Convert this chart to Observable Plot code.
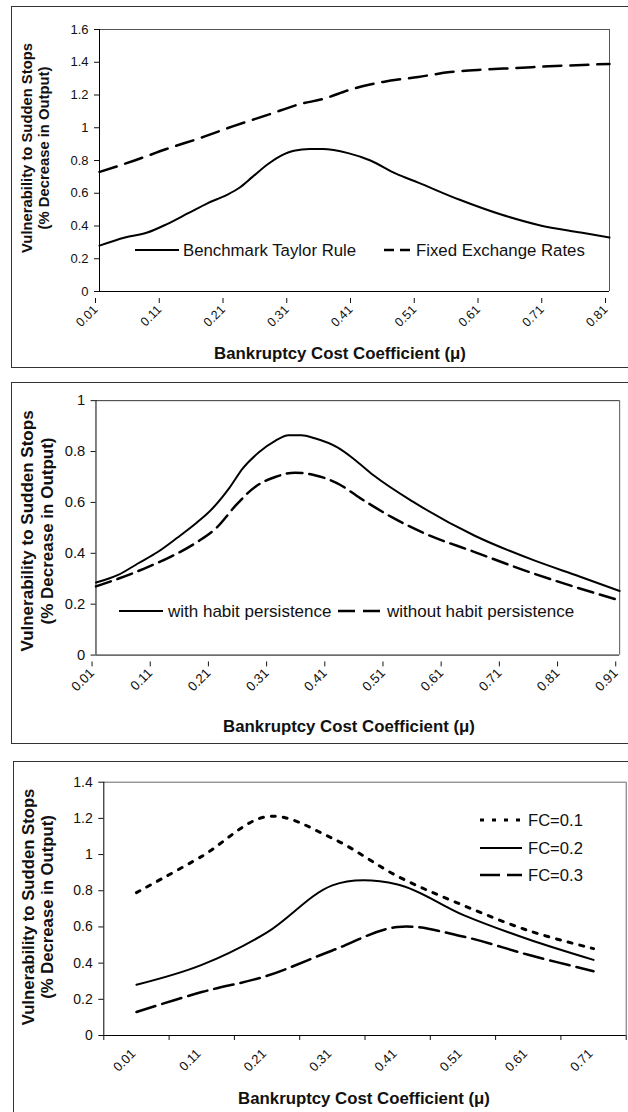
<!DOCTYPE html>
<html>
<head>
<meta charset="utf-8">
<script src="https://cdn.jsdelivr.net/npm/d3@7"></script>
<script src="https://cdn.jsdelivr.net/npm/@observablehq/plot@0.6"></script>
<style>
  html, body { margin: 0; padding: 0; background: #fff; }
  #page { position: relative; width: 628px; height: 1112px; overflow: hidden; background: #fff; }
  .frame { position: absolute; border: 1.5px solid #333; box-sizing: border-box; }
</style>
</head>
<body>
<div id="page"></div>
<script>
// ---------------- DATA ----------------
// Panel 1: Benchmark Taylor Rule vs Fixed Exchange Rates
const p1TaylorMu = [0.01, 0.05, 0.085, 0.115, 0.15, 0.18, 0.21, 0.23, 0.25, 0.275, 0.295, 0.315, 0.34, 0.36, 0.40, 0.435, 0.475, 0.51, 0.575, 0.64, 0.70, 0.765, 0.81];
const p1Taylor   = [0.28, 0.33, 0.36, 0.41, 0.48, 0.54, 0.59, 0.635, 0.70, 0.78, 0.83, 0.86, 0.87, 0.87, 0.845, 0.80, 0.72, 0.665, 0.56, 0.47, 0.405, 0.36, 0.33];
const p1FixedMu  = [0.01, 0.065, 0.115, 0.17, 0.22, 0.275, 0.325, 0.36, 0.405, 0.455, 0.51, 0.56, 0.61, 0.665, 0.715, 0.81];
const p1Fixed    = [0.73, 0.80, 0.87, 0.94, 1.01, 1.08, 1.145, 1.175, 1.235, 1.28, 1.31, 1.34, 1.355, 1.365, 1.375, 1.39];
const p1XTicks   = [0.01, 0.11, 0.21, 0.31, 0.41, 0.51, 0.61, 0.71, 0.81];
const p1YTicks   = [0, 0.2, 0.4, 0.6, 0.8, 1, 1.2, 1.4, 1.6];
const p1Labels   = ["Benchmark Taylor Rule", "Fixed Exchange Rates"];

// Panel 2: with / without habit persistence
const p2WithMu    = [0.01, 0.048, 0.082, 0.116, 0.149, 0.183, 0.211, 0.239, 0.262, 0.29, 0.318, 0.341, 0.363, 0.386, 0.425, 0.453, 0.487, 0.554, 0.661, 0.762, 0.841, 0.91];
const p2With      = [0.285, 0.315, 0.36, 0.405, 0.46, 0.52, 0.578, 0.656, 0.733, 0.797, 0.842, 0.864, 0.864, 0.852, 0.816, 0.771, 0.707, 0.604, 0.469, 0.373, 0.309, 0.252];
const p2WithoutMu = [0.01, 0.048, 0.093, 0.138, 0.183, 0.217, 0.251, 0.284, 0.318, 0.352, 0.386, 0.425, 0.464, 0.52, 0.577, 0.661, 0.745, 0.83, 0.91];
const p2Without   = [0.27, 0.30, 0.34, 0.386, 0.443, 0.50, 0.59, 0.662, 0.70, 0.717, 0.707, 0.675, 0.617, 0.54, 0.476, 0.405, 0.334, 0.27, 0.215];
const p2XTicks    = [0.01, 0.11, 0.21, 0.31, 0.41, 0.51, 0.61, 0.71, 0.81, 0.91];
const p2YTicks    = [0, 0.2, 0.4, 0.6, 0.8, 1];
const p2Labels    = ["with habit persistence", "without habit persistence"];

// Panel 3: FC = 0.1 / 0.2 / 0.3 (category axis)
const p3Mu     = [0.01, 0.11, 0.21, 0.31, 0.41, 0.51, 0.61, 0.71];
const p3FC01   = [0.79, 0.99, 1.21, 1.09, 0.88, 0.72, 0.58, 0.48];
const p3FC02   = [0.28, 0.39, 0.57, 0.83, 0.835, 0.667, 0.532, 0.418];
const p3FC03   = [0.13, 0.24, 0.33, 0.47, 0.60, 0.547, 0.446, 0.355];
const p3YTicks = [0, 0.2, 0.4, 0.6, 0.8, 1, 1.2, 1.4];
const p3Labels = ["FC=0.1", "FC=0.2", "FC=0.3"];

const yTitle = ["Vulnerability to Sudden Stops", "(% Decrease in Output)"];
const xTitle = "Bankruptcy Cost Coefficient (\u03bc)";

// ---------------- HELPERS ----------------
const FONT = '"Liberation Sans", Arial, Helvetica, sans-serif';
const page = document.getElementById("page");
const rows = (xs, ys) => xs.map((m, i) => ({mu: m, v: ys[i]}));

function frame(left, top, w, h) {
  const d = document.createElement("div");
  d.className = "frame";
  Object.assign(d.style, {left: left + "px", top: top + "px", width: w + "px", height: h + "px"});
  page.appendChild(d);
}

function addPlot(top, o, marks) {
  const svg = Plot.plot({
    width: o.width, height: o.height,
    marginLeft: o.ml, marginRight: o.mr, marginTop: o.mt, marginBottom: o.mb,
    x: {domain: o.xd, label: null},
    y: {domain: o.yd, label: null},
    style: `font-family: ${FONT}; font-size: ${o.fs}px; color: #111; background: transparent; overflow: visible;`,
    marks
  });
  svg.style.position = "absolute";
  svg.style.left = "0px";
  svg.style.top = top + "px";
  page.appendChild(svg);
}

const fmtY = d => String(d);
const fmtX = d => d.toFixed(2);

// frames (outer chart borders)
frame(11, 6, 700, 362);
frame(11, 381.5, 700, 362.5);
frame(13, 760.5, 700, 400);

// ---------------- PANEL 1 ----------------
addPlot(0, {width: 628, height: 370, ml: 99, mr: 19, mt: 29, mb: 79,
            xd: [p1XTicks[0], p1XTicks[p1XTicks.length - 1]], yd: [0, p1YTicks[p1YTicks.length - 1]], fs: 13}, [
  Plot.ruleY([p1YTicks[p1YTicks.length - 1]], {stroke: "#555"}),
  Plot.ruleX([p1XTicks[p1XTicks.length - 1]], {stroke: "#555"}),
  Plot.axisY({ticks: p1YTicks, tickSize: 5, tickPadding: 6, tickFormat: fmtY, label: null, fontSize: 13}),
  Plot.axisX({ticks: p1XTicks, tickSize: 5, tickPadding: 4, tickRotate: -45, tickFormat: fmtX, label: null, fontSize: 12.5, dx: -4, dy: 7}),
  Plot.ruleX([p1XTicks[0]], {stroke: "#000"}),
  Plot.ruleY([0], {stroke: "#000"}),
  Plot.line(rows(p1TaylorMu, p1Taylor), {x: "mu", y: "v", curve: "monotone-x", stroke: "#000", strokeWidth: 2}),
  Plot.line(rows(p1FixedMu, p1Fixed), {x: "mu", y: "v", curve: "monotone-x", stroke: "#000", strokeWidth: 2.5, strokeDasharray: "18,9"})
]);

// ---------------- PANEL 2 ----------------
addPlot(372, {width: 640, height: 372, ml: 97.3, mr: 9, mt: 28.7, mb: 84,
              xd: [p2XTicks[0], p2XTicks[p2XTicks.length - 1]], yd: [0, p2YTicks[p2YTicks.length - 1]], fs: 15}, [
  Plot.ruleY([p2YTicks[p2YTicks.length - 1]], {stroke: "#333"}),
  Plot.ruleX([p2XTicks[p2XTicks.length - 1]], {stroke: "#555"}),
  Plot.axisY({ticks: p2YTicks, tickSize: 5, tickPadding: 6, tickFormat: fmtY, label: null, fontSize: 15}),
  Plot.axisX({ticks: p2XTicks, tickSize: 5, tickPadding: 4, tickRotate: -45, tickFormat: fmtX, label: null, fontSize: 13.5, dx: -4, dy: 7}),
  Plot.ruleX([p2XTicks[0]], {stroke: "#000"}),
  Plot.ruleY([0], {stroke: "#000"}),
  Plot.line(rows(p2WithMu, p2With), {x: "mu", y: "v", curve: "monotone-x", stroke: "#000", strokeWidth: 2}),
  Plot.line(rows(p2WithoutMu, p2Without), {x: "mu", y: "v", curve: "monotone-x", stroke: "#000", strokeWidth: 2.5, strokeDasharray: "16,7"})
]);

// ---------------- PANEL 3 ----------------
const half = (p3Mu[1] - p3Mu[0]) / 2;
const p3Bounds = [p3Mu[0] - half, ...p3Mu.map(m => m + half)];
addPlot(746, {width: 628, height: 366, ml: 103.3, mr: 2.3, mt: 35.7, mb: 77,
              xd: [p3Bounds[0], p3Bounds[p3Bounds.length - 1]], yd: [0, p3YTicks[p3YTicks.length - 1]], fs: 14}, [
  Plot.ruleY([p3YTicks[p3YTicks.length - 1]], {stroke: "#666"}),
  Plot.ruleX([p3Bounds[p3Bounds.length - 1]], {stroke: "#666"}),
  Plot.axisY({ticks: p3YTicks, tickSize: 5, tickPadding: 6, tickFormat: fmtY, label: null, fontSize: 14}),
  Plot.axisX({ticks: p3Bounds, tickSize: 5, tickFormat: () => "", label: null}),
  Plot.axisX({ticks: p3Mu, tickSize: 0, tickPadding: 9, tickRotate: -45, tickFormat: fmtX, label: null, fontSize: 13, dx: -3, dy: 7}),
  Plot.ruleX([p3Bounds[0]], {stroke: "#000"}),
  Plot.ruleY([0], {stroke: "#000"}),
  Plot.line(rows(p3Mu, p3FC01), {x: "mu", y: "v", curve: "cardinal", tension: 0, stroke: "#000", strokeWidth: 3, strokeDasharray: "4,8"}),
  Plot.line(rows(p3Mu, p3FC02), {x: "mu", y: "v", curve: "cardinal", tension: 0, stroke: "#000", strokeWidth: 2}),
  Plot.line(rows(p3Mu, p3FC03), {x: "mu", y: "v", curve: "cardinal", tension: 0, stroke: "#000", strokeWidth: 2.5, strokeDasharray: "20,7"})
]);

// ---------------- OVERLAY: titles & legends ----------------
const ov = d3.select(page).append("svg")
  .attr("width", 628).attr("height", 1112)
  .style("position", "absolute").style("left", "0px").style("top", "0px")
  .style("font-family", FONT).style("pointer-events", "none");

function yTitleAt(x1, x2, cy, fs) {
  [x1, x2].forEach((x, i) => {
    ov.append("text").attr("x", x).attr("y", cy).attr("transform", `rotate(-90,${x},${cy})`)
      .attr("text-anchor", "middle").attr("dy", "0.35em").attr("font-weight", "bold")
      .attr("font-size", fs).attr("fill", "#111").text(yTitle[i]);
  });
}
function xTitleAt(cx, cy, fs) {
  ov.append("text").attr("x", cx).attr("y", cy).attr("text-anchor", "middle").attr("dy", "0.35em")
    .attr("font-weight", "bold").attr("font-size", fs).attr("fill", "#111").text(xTitle);
}
function legendItem(x1, x2, y, dash, sw, label, tx, fs) {
  ov.append("line").attr("x1", x1).attr("x2", x2).attr("y1", y).attr("y2", y)
    .attr("stroke", "#000").attr("stroke-width", sw).attr("stroke-dasharray", dash);
  ov.append("text").attr("x", tx).attr("y", y).attr("dy", "0.35em").attr("font-size", fs)
    .attr("fill", "#111").text(label);
}

yTitleAt(27, 44, 148, 14.8);
xTitleAt(340, 353, 16.8);
legendItem(135, 179, 250, null, 2, p1Labels[0], 183, 16.8);
legendItem(384, 410, 250, "10,6", 2.5, p1Labels[1], 416, 16.8);

yTitleAt(27, 47, 531, 17);
xTitleAt(349, 726, 16.8);
legendItem(119, 163, 611, null, 2, p2Labels[0], 168, 17);
legendItem(338, 380, 611, "17,8", 2.5, p2Labels[1], 387, 17);

yTitleAt(28, 47, 907, 16.7);
xTitleAt(364, 1098, 16.8);
legendItem(480, 522, 820, "4,8", 3, p3Labels[0], 528, 16.6);
legendItem(480, 522, 848, null, 2, p3Labels[1], 528, 16.6);
legendItem(480, 522, 875, "20,7", 2.5, p3Labels[2], 528, 16.6);
</script>
</body>
</html>
